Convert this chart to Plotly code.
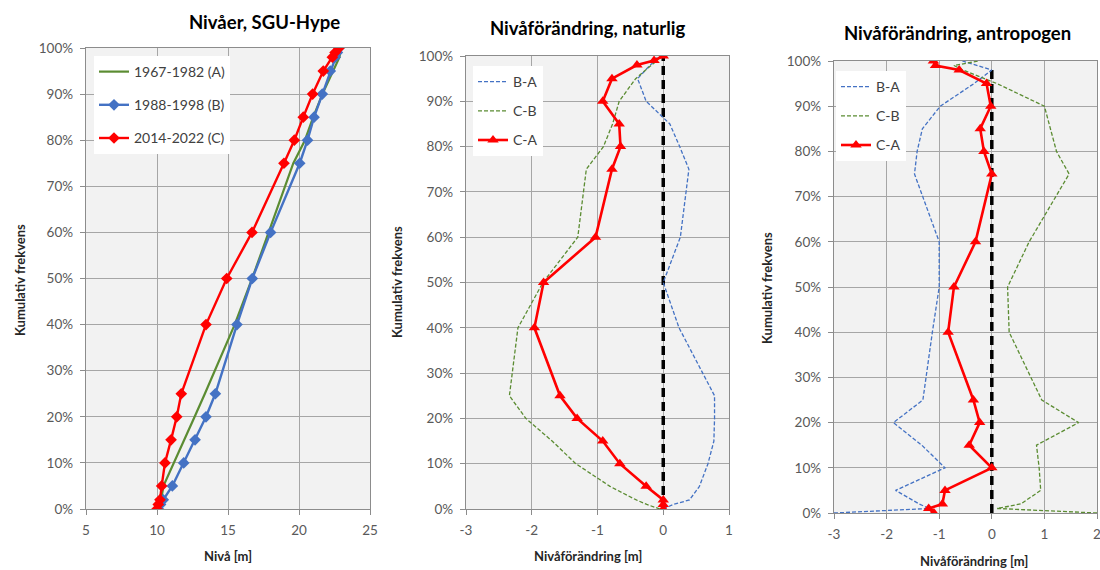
import plotly.graph_objects as go

# Cumulative frequency levels shared by every series
PCT = [0.00, 0.01, 0.02, 0.05, 0.10, 0.15, 0.20, 0.25, 0.40, 0.50,
       0.60, 0.75, 0.80, 0.85, 0.90, 0.95, 0.98, 0.99, 1.00]

# Levels [m] per period (SGU-Hype)
NIVA_A = [10.00, 10.15, 10.30, 10.45, 11.20, 11.93, 12.65, 13.37, 15.47, 16.70,
          17.85, 19.60, 20.42, 21.00, 21.65, 22.40, 22.85, 22.90, 22.92]
NIVA_B = [10.10, 10.25, 10.44, 11.08, 11.88, 12.68, 13.45, 14.11, 15.63, 16.71,
          18.00, 20.05, 20.60, 21.06, 21.64, 22.20, 22.55, 22.70, 22.82]
NIVA_C = [10.00, 10.09, 10.21, 10.33, 10.56, 10.99, 11.39, 11.71, 13.45, 14.91,
          16.69, 18.94, 19.67, 20.30, 20.96, 21.71, 22.35, 22.54, 22.82]

# Natural level change [m]
NAT_BA = [0.00, 0.15, 0.40, 0.55, 0.68, 0.77, 0.78, 0.78, 0.24, 0.00,
          0.26, 0.39, 0.25, 0.10, -0.26, -0.39, -0.20, -0.12, -0.10]
NAT_CB = [-0.05, -0.25, -0.41, -0.81, -1.33, -1.69, -2.09, -2.34, -2.21, -1.83,
          -1.30, -1.17, -0.91, -0.77, -0.67, -0.42, -0.18, -0.09, -0.05]
NAT_CA = [0.00, 0.00, 0.00, -0.26, -0.66, -0.92, -1.31, -1.57, -1.96, -1.82,
          -1.03, -0.78, -0.65, -0.67, -0.92, -0.78, -0.40, -0.14, 0.00]

# Anthropogenic level change [m]
ANT_BA = [-3.00, -1.19, -1.38, -1.83, -0.89, -1.33, -1.87, -1.31, -1.13, -1.00,
          -1.00, -1.47, -1.42, -1.32, -0.98, -0.34, 0.00, -0.30, -0.56]
ANT_CB = [2.00, 0.10, 0.55, 0.93, 0.90, 0.85, 1.65, 0.95, 0.33, 0.30,
          0.71, 1.47, 1.23, 1.12, 1.00, 0.10, -0.55, -0.72, -0.25]
ANT_CA = [-1.10, -1.20, -0.94, -0.89, 0.00, -0.43, -0.23, -0.35, -0.83, -0.72,
          -0.31, 0.00, -0.15, -0.22, -0.02, -0.10, -0.62, -1.07, -1.11]

# Zero reference lines
ZERO_X = [0, 0]
ZERO_Y_NAT = [0, 1]
ZERO_Y_ANT = [0, 0.98]

# X tick labels (plain hyphen for negatives)
TICKS_NIVA = [5, 10, 15, 20, 25]
TICKS_NAT = [-3, -2, -1, 0, 1]
TICKS_ANT = [-3, -2, -1, 0, 1, 2]
LABELS_NIVA = ["5", "10", "15", "20", "25"]
LABELS_NAT = ["-3", "-2", "-1", "0", "1"]
LABELS_ANT = ["-3", "-2", "-1", "0", "1", "2"]

W, H = 1100, 570
FONT = "Lato"
GREEN = "#5b8c32"
BLUE = "#4472c4"
RED = "#ff0000"
GRID = "#a6a6a6"
FRAME = "#8c8c8c"
TICK = "#595959"


def px_x(p):
    return p / W


def px_y(p):
    return 1 - p / H


fig = go.Figure()

# --- Panel 1: levels
fig.add_trace(go.Scatter(x=NIVA_A, y=PCT, mode="lines", name="1967-1982 (A)",
                         line=dict(color=GREEN, width=2.2),
                         xaxis="x", yaxis="y", legend="legend", legendgroup="a"))
fig.add_trace(go.Scatter(x=NIVA_B, y=PCT, mode="lines+markers", name="1988-1998 (B)",
                         line=dict(color=BLUE, width=2.4),
                         marker=dict(symbol="diamond", size=9, color=BLUE),
                         xaxis="x", yaxis="y", legend="legend", legendgroup="b"))
fig.add_trace(go.Scatter(x=NIVA_C, y=PCT, mode="lines+markers", name="2014-2022 (C)",
                         line=dict(color=RED, width=2.4),
                         marker=dict(symbol="diamond", size=9, color=RED),
                         xaxis="x", yaxis="y", legend="legend", legendgroup="c"))

# --- Panel 2: natural change
fig.add_trace(go.Scatter(x=ZERO_X, y=ZERO_Y_NAT, mode="lines", showlegend=False,
                         line=dict(color="black", width=3.5, dash="9px,5px"),
                         xaxis="x2", yaxis="y2"))
fig.add_trace(go.Scatter(x=NAT_BA, y=PCT, mode="lines", name="B-A",
                         line=dict(color=BLUE, width=1.3, dash="4px,2px"),
                         xaxis="x2", yaxis="y2", legend="legend2", legendgroup="ba2"))
fig.add_trace(go.Scatter(x=NAT_CB, y=PCT, mode="lines", name="C-B",
                         line=dict(color=GREEN, width=1.3, dash="4px,2px"),
                         xaxis="x2", yaxis="y2", legend="legend2", legendgroup="cb2"))
fig.add_trace(go.Scatter(x=NAT_CA, y=PCT, mode="lines+markers", name="C-A",
                         line=dict(color=RED, width=2.6),
                         marker=dict(symbol="triangle-up", size=10, color=RED),
                         xaxis="x2", yaxis="y2", legend="legend2", legendgroup="ca2"))

# --- Panel 3: anthropogenic change
fig.add_trace(go.Scatter(x=ZERO_X, y=ZERO_Y_ANT, mode="lines", showlegend=False,
                         line=dict(color="black", width=3.5, dash="9px,5px"),
                         xaxis="x3", yaxis="y3"))
fig.add_trace(go.Scatter(x=ANT_BA, y=PCT, mode="lines", name="B-A",
                         line=dict(color=BLUE, width=1.3, dash="4px,2px"),
                         xaxis="x3", yaxis="y3", legend="legend3", legendgroup="ba3"))
fig.add_trace(go.Scatter(x=ANT_CB, y=PCT, mode="lines", name="C-B",
                         line=dict(color=GREEN, width=1.3, dash="4px,2px"),
                         xaxis="x3", yaxis="y3", legend="legend3", legendgroup="cb3"))
fig.add_trace(go.Scatter(x=ANT_CA, y=PCT, mode="lines+markers", name="C-A",
                         line=dict(color=RED, width=2.6),
                         marker=dict(symbol="triangle-up", size=10, color=RED),
                         xaxis="x3", yaxis="y3", legend="legend3", legendgroup="ca3"))


def x_axis(left, right, rng, tickvals, ticktext, anchor):
    return dict(domain=[px_x(left), px_x(right)], range=rng,
                tickmode="array", tickvals=tickvals, ticktext=ticktext,
                anchor=anchor, automargin=False, showgrid=True, gridcolor=GRID, gridwidth=1.2,
                showline=True, linecolor=FRAME, linewidth=1.4, mirror=True,
                ticks="outside", ticklen=5, tickcolor=FRAME, ticklabelstandoff=4,
                ticklabeloverflow="allow",
                tickfont=dict(family=FONT, size=13.5, color=TICK),
                zeroline=False, fixedrange=True)


def y_axis(top, bottom, anchor):
    return dict(domain=[px_y(bottom), px_y(top)], range=[0, 1], dtick=0.1, tickformat=".0%",
                anchor=anchor, automargin=False, showgrid=True, gridcolor=GRID, gridwidth=1.2,
                showline=True, linecolor=FRAME, linewidth=1.4, mirror=True,
                ticks="outside", ticklen=5, tickcolor=FRAME, ticklabelstandoff=4,
                tickfont=dict(family=FONT, size=13.5, color=TICK),
                zeroline=False, fixedrange=True)


def legend_box(left, top, gap):
    return dict(x=px_x(left), y=px_y(top), xanchor="left", yanchor="top",
                bgcolor="white", borderwidth=0, tracegroupgap=gap,
                font=dict(family=FONT, size=14, color="#404040"),
                itemclick=False, itemdoubleclick=False)


annotations = []


def text(x, y, s, size, bold=True, angle=0, color="black"):
    annotations.append(dict(x=px_x(x), y=px_y(y), xref="paper", yref="paper",
                            text=f"<b>{s}</b>" if bold else s, showarrow=False,
                            textangle=angle, xanchor="center", yanchor="middle",
                            font=dict(family=FONT, size=size, color=color)))


# Panel titles
text(264, 22, "Nivåer, SGU-Hype", 18.5)
text(588, 28, "Nivåförändring, naturlig", 18.5)
text(958, 33, "Nivåförändring, antropogen", 18.5)

# Axis titles
text(228, 556, "Nivå [m]", 13, color="#262626")
text(588, 556, "Nivåförändring [m]", 13, color="#262626")
text(974, 561, "Nivåförändring [m]", 13, color="#262626")
text(20, 280, "Kumulativ frekvens", 13, angle=-90, color="#262626")
text(397, 282, "Kumulativ frekvens", 13, angle=-90, color="#262626")
text(767, 288, "Kumulativ frekvens", 13, angle=-90, color="#262626")

fig.update_layout(
    width=W, height=H, autosize=False,
    margin=dict(l=0, r=0, t=0, b=0, pad=0, autoexpand=False),
    paper_bgcolor="white",
    plot_bgcolor="#f2f2f2",
    xaxis=x_axis(86, 370, [5, 25], TICKS_NIVA, LABELS_NIVA, "y"),
    yaxis=y_axis(48, 509, "x"),
    xaxis2=x_axis(466, 729, [-3, 1], TICKS_NAT, LABELS_NAT, "y2"),
    yaxis2=y_axis(56, 509, "x2"),
    xaxis3=x_axis(834, 1097, [-3, 2], TICKS_ANT, LABELS_ANT, "y3"),
    yaxis3=y_axis(61, 513, "x3"),
    legend=legend_box(94, 56, 12),
    legend2=legend_box(473, 66, 8),
    legend3=legend_box(836, 71, 8),
    annotations=annotations,
    font=dict(family=FONT),
)

fig.write_html("out.html")
